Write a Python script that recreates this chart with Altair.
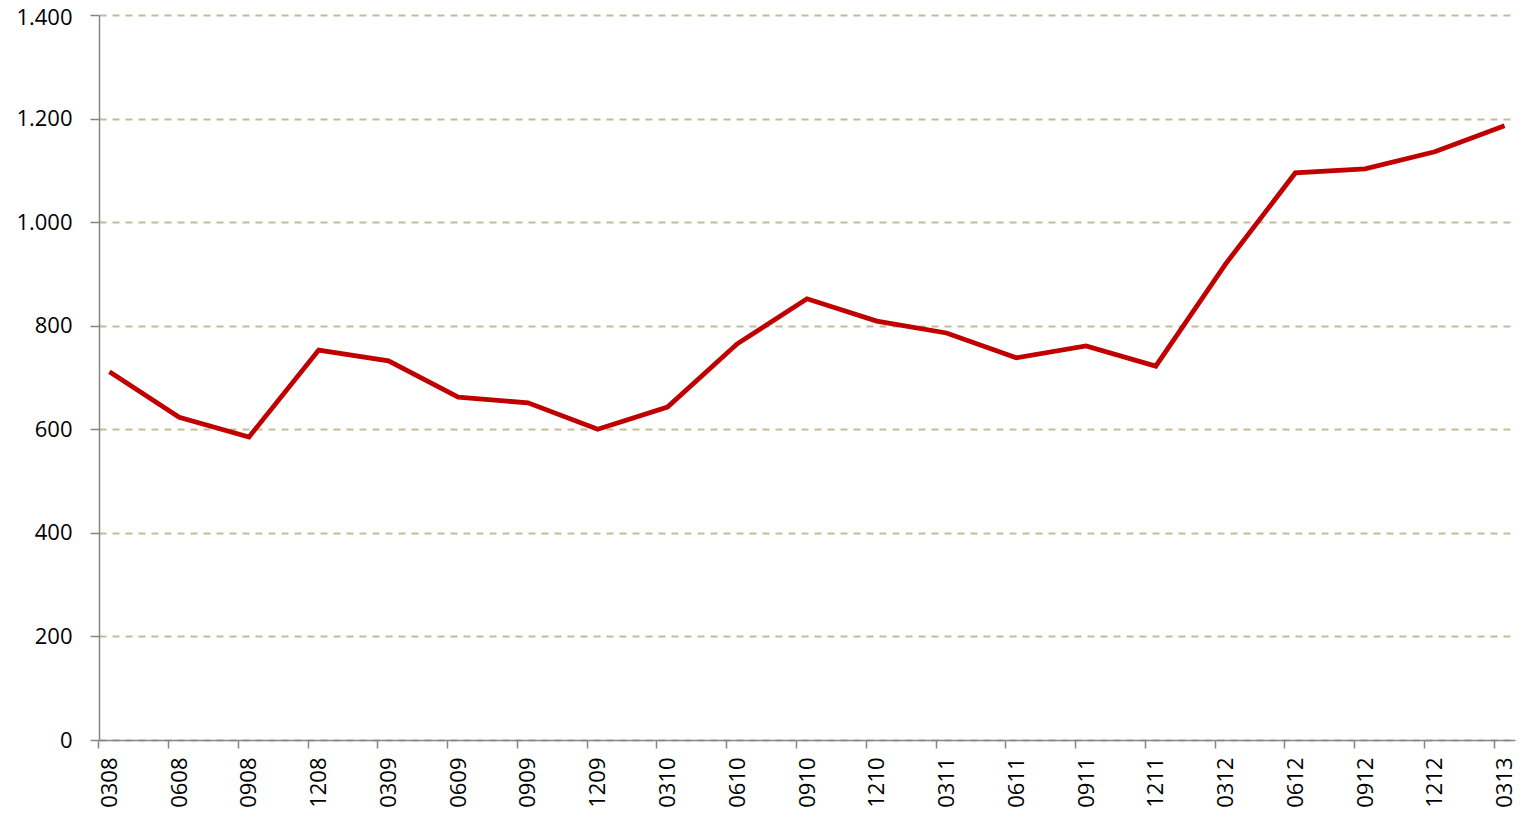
import altair as alt
import pandas as pd

periods = ["0308", "0608", "0908", "1208", "0309", "0609", "0909", "1209", "0310", "0610",
           "0910", "1210", "0311", "0611", "0911", "1211", "0312", "0612", "0912", "1212", "0313"]
values = [711, 623, 585, 753, 732, 662, 651, 600, 643, 765,
          852, 809, 786, 738, 761, 722, 919, 1095, 1103, 1136, 1186]
y_ticks = [0, 200, 400, 600, 800, 1000, 1200, 1400]

df = pd.DataFrame({"period": periods, "value": values})

FONT = "Open Sans"

chart = alt.Chart(df).mark_line(color="#C00000", strokeWidth=4.8, strokeJoin="miter").encode(
    x=alt.X("period:O", sort=periods, title=None,
            scale=alt.Scale(type="point", padding=0.15),
            axis=alt.Axis(labelAngle=-90, labelAlign="right", labelBaseline="middle",
                          tickOffset=-11, labelOffset=11,
                          tickSize=8, tickColor="#868686", domainColor="#868686",
                          domainWidth=1.5, tickWidth=1.5,
                          labelPadding=9, labelFont=FONT, labelFontSize=22,
                          labelColor="#000000", grid=False)),
    y=alt.Y("value:Q", title=None,
            scale=alt.Scale(domain=[0, 1400], nice=False),
            axis=alt.Axis(values=y_ticks, format=",.0f", tickSize=9,
                          tickColor="#868686", domainColor="#868686",
                          domainWidth=1.5, tickWidth=1.5,
                          labelPadding=18,
                          labelOffset={"condition": {"test": "datum.value == 1400", "value": 2},
                                       "value": 0},
                          labelFont=FONT, labelFontSize=22,
                          labelColor="#000000",
                          labelExpr="replace(datum.label, ',', '.')",
                          grid=True, gridColor="#C4BC96", gridDash=[7, 6],
                          gridWidth=2)),
).properties(
    width=1416, height=725,
    autosize=alt.AutoSizeParams(type="none"),
    padding={"left": 91, "top": 7, "right": 4, "bottom": 70},
).configure_view(stroke=None)

chart.save("out.html", embed_options={"renderer": "svg", "actions": False})
